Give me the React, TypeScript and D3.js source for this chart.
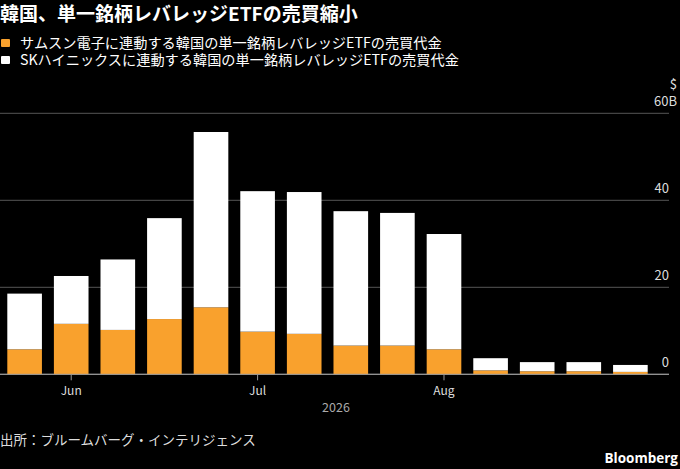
import React from 'react';
import { scaleBand, scaleLinear, stack } from 'd3';

// weekly buckets, values in $B
const weeks = ['May 25', 'Jun 1', 'Jun 8', 'Jun 15', 'Jun 22', 'Jul 1', 'Jul 8', 'Jul 15', 'Jul 22', 'Aug 1', 'Aug 8', 'Aug 15', 'Aug 22', 'Aug 29'];
const samsung = [5.75, 11.6, 10.2, 12.7, 15.4, 9.8, 9.3, 6.6, 6.6, 5.75, 0.9, 0.7, 0.7, 0.55];
const skHynix = [12.8, 11.0, 16.2, 23.2, 40.3, 32.3, 32.6, 30.9, 30.5, 26.5, 2.8, 2.1, 2.1, 1.6];
const monthTicks = ['Jun 1', 'Jul 1', 'Aug 1'];
const monthLabels = ['Jun', 'Jul', 'Aug'];
const yTicks = [0, 20, 40, 60];

const seriesNames = [
    'サムスン電子に連動する韓国の単一銘柄レバレッジETFの売買代金',
    'SKハイニックスに連動する韓国の単一銘柄レバレッジETFの売買代金',
];
const colors = ['#f9a12d', '#ffffff'];

const W = 680;
const H = 469;
const font = '"Noto Sans CJK JP", "Noto Sans", sans-serif';

export default function App() {
    const x = scaleBand<string>().domain(weeks).range([7.3, 647.7]).paddingInner(0.257).paddingOuter(0);
    const y = scaleLinear().domain([0, 60]).range([374.3, 113.3]);

    const rows = weeks.map((w, i) => ({ week: w, samsung: samsung[i], sk: skHynix[i] }));
    const layers = stack<any>().keys(['samsung', 'sk'])(rows);

    return (
        <div style={{ position: 'fixed', left: 0, top: 0, width: W, height: H, background: '#000' }}>
            <svg width={W} height={H} style={{ display: 'block', fontFamily: font }}>
                <rect width={W} height={H} fill="#000" />
                <text x={0} y={21} fill="#fff" fontSize={19} fontWeight="bold">
                    韓国、単一銘柄レバレッジETFの売買縮小
                </text>
                {seriesNames.map((name, i) => (
                    <g key={name} transform={`translate(0, ${i * 17})`}>
                        <rect x={1} y={39} width={9} height={8} rx={1} fill={colors[i]} />
                        <text x={20} y={47.5} fill="#fff" fontSize={14.2}>
                            {name}
                        </text>
                    </g>
                ))}

                {yTicks.map((t) => (
                    <g key={t}>
                        <line x1={0} x2={669} y1={y(t)} y2={y(t)} stroke={t === 0 ? '#999' : '#555'} strokeWidth={1} />
                        <text
                            x={t === 60 ? 677 : 669}
                            y={y(t) - 7.5}
                            fill="#ddd"
                            fontSize={13}
                            textAnchor="end"
                        >
                            {t === 60 ? '60B' : t}
                        </text>
                    </g>
                ))}
                <text x={677} y={89} fill="#ddd" fontSize={13} textAnchor="end">
                    $
                </text>

                {layers.map((layer, li) => (
                    <g key={layer.key} fill={colors[li]}>
                        {layer.map((d: any, i: number) => (
                            <rect
                                key={i}
                                x={x(weeks[i])}
                                y={y(d[1])}
                                width={x.bandwidth()}
                                height={y(d[0]) - y(d[1])}
                            />
                        ))}
                    </g>
                ))}
                <line x1={0} x2={669} y1={y(0)} y2={y(0)} stroke="#999" strokeWidth={1} />

                {monthTicks.map((m, i) => {
                    const cx = (x(m) as number) + x.bandwidth() / 2;
                    return (
                        <g key={m}>
                            <line x1={cx} x2={cx} y1={y(0)} y2={y(0) + 6} stroke="#999" />
                            <text x={cx} y={395} fill="#ddd" fontSize={12} textAnchor="middle">
                                {monthLabels[i]}
                            </text>
                        </g>
                    );
                })}
                <text x={336} y={412} fill="#aaa" fontSize={12.5} textAnchor="middle">
                    2026
                </text>

                <text x={0} y={445} fill="#ddd" fontSize={13.5}>
                    出所：ブルームバーグ・インテリジェンス
                </text>
                <text x={678} y={463} fill="#fff" fontSize={13.5} fontWeight="bold" textAnchor="end" fontFamily='"Open Sans", sans-serif'>
                    Bloomberg
                </text>
            </svg>
        </div>
    );
}
